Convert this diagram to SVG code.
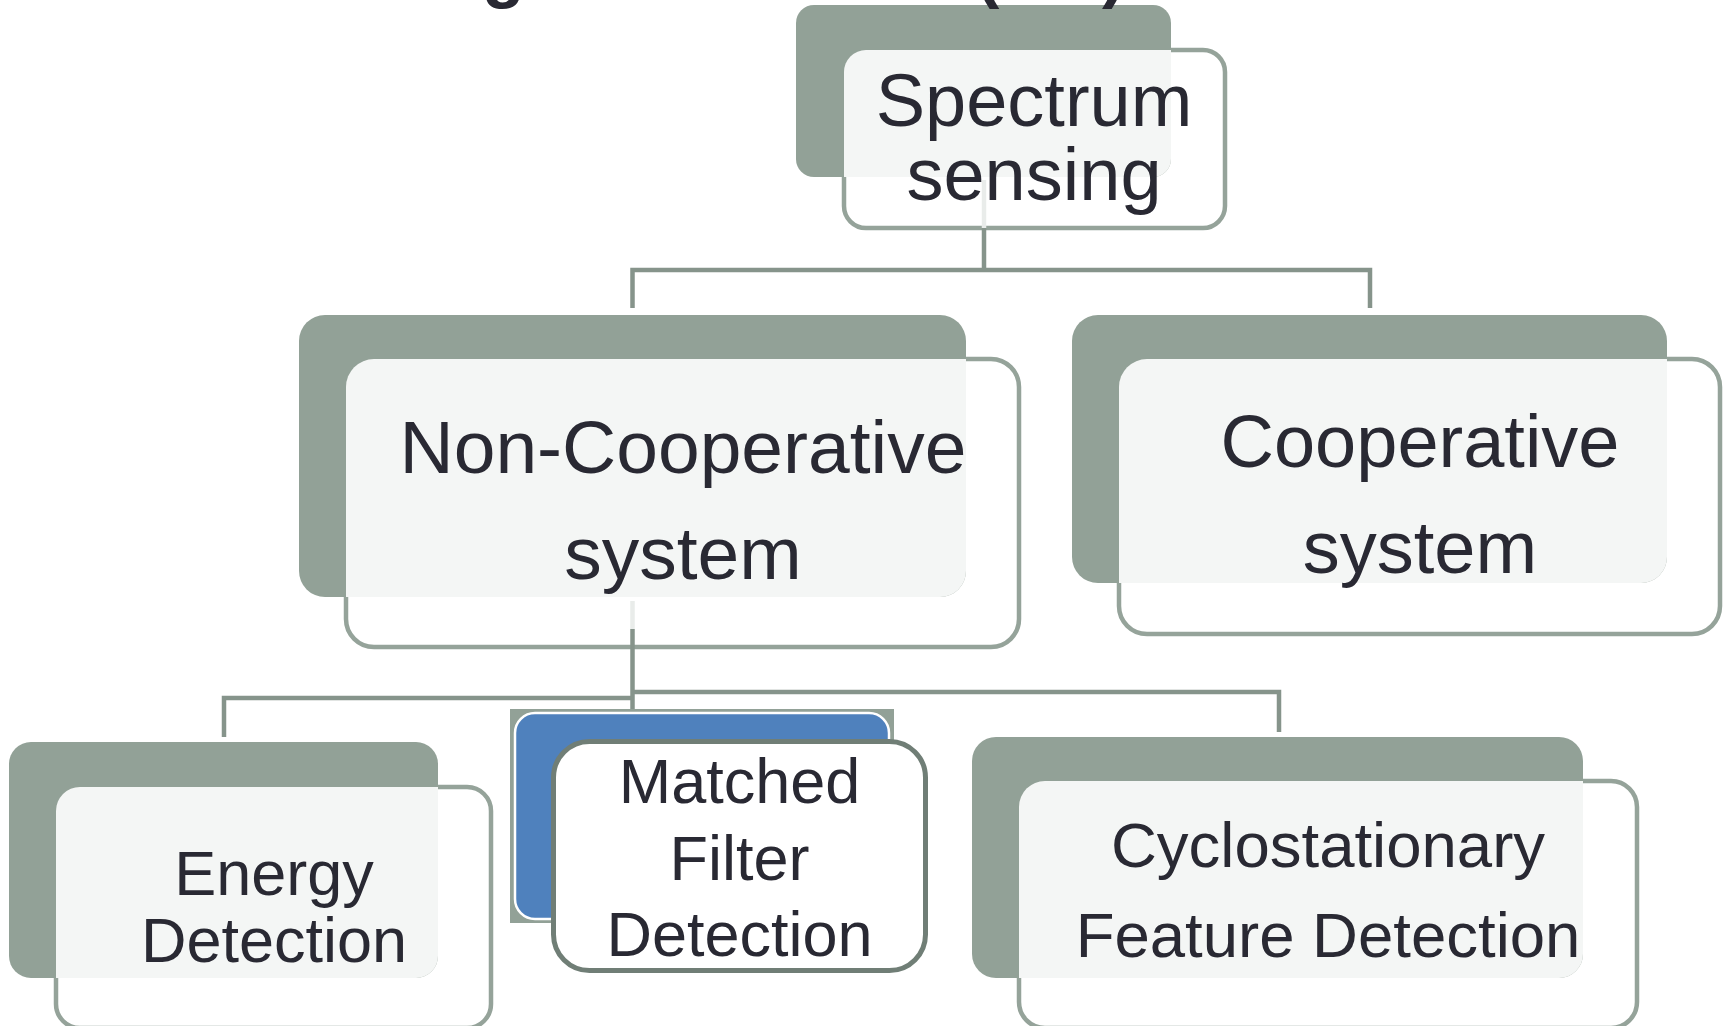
<svg xmlns="http://www.w3.org/2000/svg" width="1725" height="1026" viewBox="0 0 1725 1026">
<style>
.bg{fill:#ffffff}
.front{fill:#ffffff;fill-opacity:0.9;stroke:#95A39A;stroke-width:4.5}
.back{fill:#92A197}
.tint{fill:#ffffff;fill-opacity:0.9}
.lbl{font-family:"Liberation Sans",Arial,sans-serif;fill:#292933;text-anchor:middle}
.ttl{font-family:"Liberation Sans",Arial,sans-serif;font-weight:bold;fill:#292933}
.conn{fill:none;stroke:#86948B;stroke-width:4.5;stroke-linejoin:miter}
.faint{fill:none;stroke:#E9ECEA;stroke-width:4.5}
</style>
<defs>
<clipPath id="c-spec"><rect x="796" y="5" width="375" height="172" rx="18"/></clipPath>
<clipPath id="c-noncoop"><rect x="299" y="315" width="667" height="282" rx="26"/></clipPath>
<clipPath id="c-coop"><rect x="1072" y="315" width="595" height="268" rx="26"/></clipPath>
<clipPath id="c-energy"><rect x="9" y="742" width="429" height="236" rx="22"/></clipPath>
<clipPath id="c-cyclo"><rect x="972" y="737" width="611" height="241" rx="24"/></clipPath>
</defs>
<rect class="bg" x="0" y="0" width="1725" height="1026"/>

<g id="n-spectrum">
<rect class="front" x="844" y="50" width="381" height="178" rx="22"/>
<rect class="back" x="796" y="5" width="375" height="172" rx="18"/>
<rect class="tint" x="844" y="50" width="381" height="178" rx="22" clip-path="url(#c-spec)"/>
<text class="lbl" font-size="74" x="1034" y="126">Spectrum</text>
<text class="lbl" font-size="74" x="1034" y="200">sensing</text>
</g>

<g id="title-fragment">
<text class="ttl" font-size="70" x="482" y="-6">g</text>
<text class="ttl" font-size="70" x="976" y="-6">(</text>
<text class="ttl" font-size="70" x="1102" y="-6">)</text>
</g>

<g id="n-noncoop">
<rect class="front" x="346" y="359" width="673" height="288" rx="28"/>
<rect class="back" x="299" y="315" width="667" height="282" rx="26"/>
<rect class="tint" x="346" y="359" width="673" height="288" rx="28" clip-path="url(#c-noncoop)"/>
<text class="lbl" font-size="75" x="683" y="473">Non-Cooperative</text>
<text class="lbl" font-size="75" x="683" y="579">system</text>
</g>

<g id="n-coop">
<rect class="front" x="1119" y="359" width="601" height="275" rx="28"/>
<rect class="back" x="1072" y="315" width="595" height="268" rx="26"/>
<rect class="tint" x="1119" y="359" width="601" height="275" rx="28" clip-path="url(#c-coop)"/>
<text class="lbl" font-size="74" x="1420" y="467">Cooperative</text>
<text class="lbl" font-size="74" x="1420" y="573">system</text>
</g>

<g id="n-energy">
<rect class="front" x="56" y="787" width="435" height="241" rx="24"/>
<rect class="back" x="9" y="742" width="429" height="236" rx="22"/>
<rect class="tint" x="56" y="787" width="435" height="241" rx="24" clip-path="url(#c-energy)"/>
<text class="lbl" font-size="63" x="274" y="895">Energy</text>
<text class="lbl" font-size="63" x="274" y="962">Detection</text>
</g>

<g id="n-matched">
<rect x="510" y="709" width="384" height="214" fill="#92A197"/>
<rect x="515" y="713" width="374" height="206" rx="20" fill="#4F81BD" stroke="#ffffff" stroke-width="2.5"/>
<rect x="553.5" y="741.5" width="372" height="229" rx="36" fill="#ffffff" stroke="#707E76" stroke-width="5"/>
<text class="lbl" font-size="63" x="739.5" y="803">Matched</text>
<text class="lbl" font-size="63" x="739.5" y="880">Filter</text>
<text class="lbl" font-size="63" x="739.5" y="956">Detection</text>
</g>

<g id="n-cyclo">
<rect class="front" x="1019" y="781" width="618" height="247" rx="26"/>
<rect class="back" x="972" y="737" width="611" height="241" rx="24"/>
<rect class="tint" x="1019" y="781" width="618" height="247" rx="26" clip-path="url(#c-cyclo)"/>
<text class="lbl" font-size="63.5" x="1328" y="867">Cyclostationary</text>
<text class="lbl" font-size="63.5" x="1328" y="957">Feature Detection</text>
</g>

<g id="connectors">
<path class="faint" d="M984 180 V228"/>
<path class="conn" d="M984 228 V270 M632.5 308 V270 H1370 V308"/>
<path class="faint" d="M632.5 601 V629"/>
<path class="conn" d="M632.5 629 V709"/>
<path class="conn" d="M632.5 698 H224 V737"/>
<path class="conn" d="M632.5 692 H1279 V732"/>
</g>
</svg>
